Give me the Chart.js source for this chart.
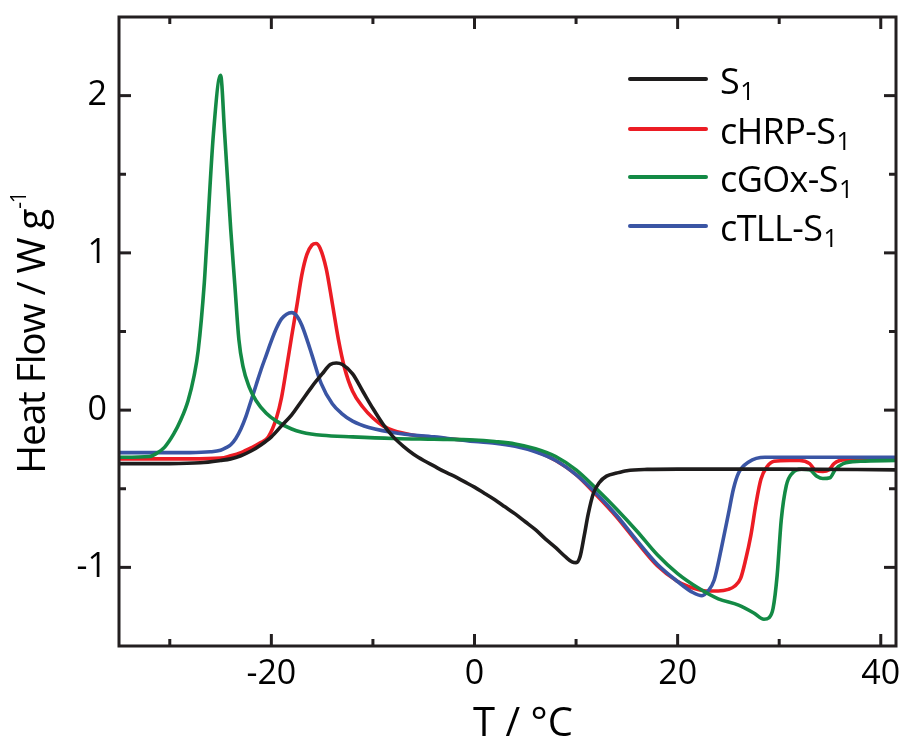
<!DOCTYPE html>
<html>
<head>
<meta charset="utf-8">
<script src="https://cdn.jsdelivr.net/npm/chart.js@4.4.1/dist/chart.umd.min.js"></script>
<style>
  html, body { margin: 0; padding: 0; background: #ffffff; }
  #wrap { width: 901px; height: 738px; position: relative; }
</style>
</head>
<body>
<div id="wrap"><canvas id="c" width="901" height="738"></canvas></div>
<script>
// ---- Data (T in °C, heat flow in W/g) ----
const s1T  = [-35,-30,-27,-25,-24,-23,-22,-21,-20,-19,-18,-17,-16,-15,-14.2,-13.6,-13,-12,-11,-10,-9,-8,-7,-6,-5,-4,-3,-2,-1,0,1,2,3,4,5,6,7,8,9,9.6,10,10.4,10.8,11.2,11.7,12.3,13,14,15,17,20,30,41.5];
const s1HF = [-0.34,-0.34,-0.335,-0.32,-0.31,-0.29,-0.26,-0.22,-0.17,-0.10,-0.03,0.06,0.15,0.23,0.29,0.30,0.29,0.23,0.12,0.01,-0.09,-0.17,-0.23,-0.28,-0.32,-0.355,-0.39,-0.42,-0.455,-0.49,-0.53,-0.57,-0.615,-0.66,-0.71,-0.76,-0.82,-0.875,-0.935,-0.965,-0.97,-0.93,-0.80,-0.66,-0.53,-0.46,-0.42,-0.40,-0.385,-0.377,-0.375,-0.375,-0.38];

const hrpT  = [-35,-28,-25,-24,-23,-22,-21,-20.3,-19.5,-19,-18.5,-18,-17.5,-17,-16.5,-16,-15.6,-15.2,-14.6,-14,-13.4,-12.8,-12,-11,-10,-9,-8,-6,-4,-2,0,2,4,6,8,10,12,14,16,18,20,21,22,23,24,25,25.6,26.2,26.7,27.2,27.7,28.2,28.8,29.5,31,32,33,33.6,34.3,34.9,35.4,36.5,41.5];
const hrpHF = [-0.31,-0.31,-0.305,-0.29,-0.27,-0.24,-0.205,-0.17,-0.05,0.08,0.27,0.47,0.66,0.86,0.99,1.05,1.06,1.03,0.90,0.68,0.45,0.27,0.12,0.02,-0.05,-0.10,-0.13,-0.16,-0.175,-0.185,-0.195,-0.205,-0.225,-0.26,-0.32,-0.41,-0.54,-0.68,-0.84,-0.99,-1.09,-1.12,-1.14,-1.15,-1.15,-1.14,-1.12,-1.07,-0.95,-0.80,-0.60,-0.44,-0.36,-0.325,-0.32,-0.32,-0.34,-0.385,-0.39,-0.38,-0.34,-0.315,-0.31];

const goxT  = [-35,-32,-31.3,-30.5,-29.6,-28.9,-28.2,-27.6,-27.2,-26.6,-26.4,-25.7,-25.0,-24.6,-24.0,-23.6,-23.2,-22.8,-22.2,-21.5,-20.5,-19.5,-18,-17,-15,-12,-8,-4,0,2,4,6,8,10,12,14,16,18,20,22,24,26,27.5,28.5,29.0,29.4,29.8,30.2,30.7,31.3,32.2,33,33.7,34.3,35,35.5,36.3,38,41.5];
const goxHF = [-0.30,-0.295,-0.275,-0.235,-0.15,-0.06,0.06,0.22,0.38,0.81,1.02,1.76,2.13,1.76,1.15,0.80,0.45,0.28,0.15,0.06,-0.02,-0.07,-0.12,-0.14,-0.16,-0.17,-0.18,-0.185,-0.19,-0.20,-0.215,-0.245,-0.295,-0.38,-0.50,-0.63,-0.77,-0.92,-1.04,-1.13,-1.20,-1.24,-1.29,-1.33,-1.32,-1.26,-1.05,-0.70,-0.48,-0.40,-0.375,-0.38,-0.42,-0.435,-0.43,-0.38,-0.34,-0.325,-0.32];

const tllT  = [-35,-28,-26,-25,-24.5,-24,-23.5,-23,-22.5,-22,-21.5,-21,-20.5,-20,-19.5,-19,-18.5,-18,-17.5,-17,-16.5,-16,-15.1,-14,-13.1,-12,-10.4,-7.2,-4,0,2,4,6,8,10,12,14,16,18,20,21.5,22.4,23,23.6,24.3,25,25.5,26,27,28.6,41.5];
const tllHF = [-0.27,-0.27,-0.265,-0.255,-0.24,-0.22,-0.18,-0.12,-0.04,0.06,0.16,0.26,0.35,0.44,0.52,0.58,0.61,0.62,0.60,0.54,0.45,0.35,0.17,0.04,-0.02,-0.07,-0.11,-0.15,-0.17,-0.20,-0.21,-0.23,-0.265,-0.32,-0.41,-0.53,-0.67,-0.83,-0.98,-1.09,-1.16,-1.18,-1.15,-1.08,-0.88,-0.66,-0.50,-0.40,-0.33,-0.30,-0.30];

const xTicks = [-20, 0, 20, 40];
const xMinor = [-30, -10, 10, 30];
const yTicks = [-1, 0, 1, 2];
const yMinor = [-0.5, 0.5, 1.5];
const xRange = [-35, 41.5];
const yRange = [-1.5, 2.5];

const seriesNames = ['S', 'cHRP-S', 'cGOx-S', 'cTLL-S'];
const seriesSub = '1';
const seriesColors = ['#1e1c1c', '#ec1c24', '#138a45', '#3a55a4'];

// ---- build ----
const toPts = (xs, ys) => xs.map((v, i) => ({x: v, y: ys[i]}));
const allT = [s1T, hrpT, goxT, tllT];
const allHF = [s1HF, hrpHF, goxHF, tllHF];
const drawOrder = [0, 3, 1, 2];

const datasets = seriesNames.map((n, i) => ({
  label: n + seriesSub,
  data: toPts(allT[i], allHF[i]),
  borderColor: seriesColors[i],
  backgroundColor: seriesColors[i],
  borderWidth: 3.6,
  pointRadius: 0,
  cubicInterpolationMode: 'monotone',
  fill: false,
  order: drawOrder[i]
}));

const FONT = '"Open Sans", "Noto Sans", sans-serif';
const INK = '#231f20';

const framePlugin = {
  id: 'framePlugin',
  afterDatasetsDraw(chart) {
    const {ctx, chartArea: a, scales} = chart;
    const x = scales.x, y = scales.y;
    ctx.save();
    ctx.strokeStyle = INK;
    ctx.lineWidth = 3;
    ctx.lineCap = 'butt';
    ctx.strokeRect(a.left, a.top, a.right - a.left, a.bottom - a.top);
    const seg = (x1, y1, x2, y2) => { ctx.beginPath(); ctx.moveTo(x1, y1); ctx.lineTo(x2, y2); ctx.stroke(); };
    const MAJ = 12, MIN = 7;
    xTicks.forEach(v => { const p = x.getPixelForValue(v); seg(p, a.bottom, p, a.bottom - MAJ); seg(p, a.top, p, a.top + MAJ); });
    xMinor.forEach(v => { const p = x.getPixelForValue(v); seg(p, a.bottom, p, a.bottom - MIN); seg(p, a.top, p, a.top + MIN); });
    yTicks.forEach(v => { const p = y.getPixelForValue(v); seg(a.left, p, a.left + MAJ, p); seg(a.right, p, a.right - MAJ, p); });
    yMinor.forEach(v => { const p = y.getPixelForValue(v); seg(a.left, p, a.left + MIN, p); seg(a.right, p, a.right - MIN, p); });

    // legend
    const lx0 = 630, lx1 = 706, tx = 720, rowY = [79, 129, 177, 226];
    chart.data.datasets.forEach((ds, i) => {
      const yy = rowY[i];
      ctx.strokeStyle = ds.borderColor;
      ctx.lineWidth = 4;
      ctx.lineCap = 'round';
      seg(lx0, yy, lx1, yy);
      ctx.fillStyle = '#000';
      ctx.textAlign = 'left';
      ctx.textBaseline = 'alphabetic';
      ctx.font = '36px ' + FONT;
      ctx.letterSpacing = '-0.6px';
      const base = seriesNames[i];
      ctx.fillText(base, tx, yy + 15);
      const w = ctx.measureText(base).width;
      ctx.font = '25px ' + FONT;
      ctx.fillText(seriesSub, tx + w + 1, yy + 21);
      ctx.letterSpacing = '0px';
    });

    // y title
    ctx.save();
    ctx.translate(45, 333);
    ctx.rotate(-Math.PI / 2);
    ctx.fillStyle = '#000';
    ctx.textBaseline = 'alphabetic';
    ctx.textAlign = 'left';
    ctx.letterSpacing = '-1.2px';
    const yBase = 'Heat Flow / W g';
    const ySup = '-1';
    ctx.font = '39px ' + FONT;
    const wb = ctx.measureText(yBase).width;
    ctx.font = '21px ' + FONT;
    const ws = ctx.measureText(ySup).width;
    const start = -(wb + ws + 1) / 2;
    ctx.font = '39px ' + FONT;
    ctx.fillText(yBase, start, 0);
    ctx.font = '21px ' + FONT;
    ctx.fillText(ySup, start + wb + 1, -19);
    ctx.letterSpacing = '0px';
    ctx.restore();

    // x title
    ctx.fillStyle = '#000';
    ctx.font = '40px ' + FONT;
    ctx.textAlign = 'center';
    ctx.textBaseline = 'alphabetic';
    ctx.fillText('T / °C', 523, 736);
    ctx.restore();
  }
};

new Chart(document.getElementById('c'), {
  type: 'line',
  data: { datasets },
  options: {
    responsive: false,
    animation: false,
    events: [],
    layout: { padding: { left: 0, right: 5, top: 17, bottom: 0 } },
    plugins: { legend: { display: false }, tooltip: { enabled: false }, title: { display: false } },
    scales: {
      x: {
        type: 'linear',
        min: xRange[0], max: xRange[1],
        afterBuildTicks: s => { s.ticks = xTicks.map(v => ({value: v})); },
        afterFit: s => { s.height = 92; s.paddingLeft = 0; s.paddingRight = 0; },
        grid: { display: false, drawTicks: false },
        border: { display: false },
        ticks: { color: '#000', font: { family: FONT, size: 34 }, padding: 8, maxRotation: 0 }
      },
      y: {
        type: 'linear',
        min: yRange[0], max: yRange[1],
        afterBuildTicks: s => { s.ticks = yTicks.map(v => ({value: v})); },
        afterFit: s => { s.width = 119; s.paddingTop = 0; s.paddingBottom = 0; },
        grid: { display: false, drawTicks: false },
        border: { display: false },
        ticks: { color: '#000', font: { family: FONT, size: 34 }, padding: 12 }
      }
    }
  },
  plugins: [framePlugin]
});
</script>
</body>
</html>
